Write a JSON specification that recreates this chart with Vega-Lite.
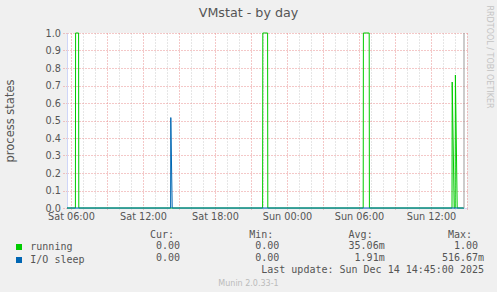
{
  "$schema": "https://vega.github.io/schema/vega-lite/v6.json",
  "width": 400,
  "height": 175,
  "autosize": {"type": "none"},
  "padding": {"left": 67, "top": 33, "right": 30, "bottom": 84},
  "background": "#F0F0F0",
  "config": {
    "view": {"fill": "#FFFFFF", "stroke": null},
    "font": "DejaVu Sans",
    "axis": {"labelFont": "DejaVu Sans", "titleFont": "DejaVu Sans", "titleFontWeight": "normal"}
  },
  "datasets": {
    "series": [
      {"series": "running", "time": "2025-12-13T05:40:00", "value": 0},
      {"series": "running", "time": "2025-12-13T06:22:00", "value": 0},
      {"series": "running", "time": "2025-12-13T06:23:00", "value": 1},
      {"series": "running", "time": "2025-12-13T06:38:00", "value": 1},
      {"series": "running", "time": "2025-12-13T06:39:00", "value": 0},
      {"series": "running", "time": "2025-12-13T21:58:00", "value": 0},
      {"series": "running", "time": "2025-12-13T21:59:00", "value": 1},
      {"series": "running", "time": "2025-12-13T22:23:00", "value": 1},
      {"series": "running", "time": "2025-12-13T22:24:00", "value": 0},
      {"series": "running", "time": "2025-12-14T06:21:00", "value": 0},
      {"series": "running", "time": "2025-12-14T06:22:00", "value": 1},
      {"series": "running", "time": "2025-12-14T06:51:00", "value": 1},
      {"series": "running", "time": "2025-12-14T06:52:00", "value": 0},
      {"series": "running", "time": "2025-12-14T13:45:00", "value": 0},
      {"series": "running", "time": "2025-12-14T13:46:00", "value": 0.72},
      {"series": "running", "time": "2025-12-14T13:56:00", "value": 0},
      {"series": "running", "time": "2025-12-14T14:01:00", "value": 0},
      {"series": "running", "time": "2025-12-14T14:02:00", "value": 0.76},
      {"series": "running", "time": "2025-12-14T14:11:00", "value": 0},
      {"series": "running", "time": "2025-12-14T14:45:00", "value": 0},
      {"series": "I/O sleep", "time": "2025-12-13T05:40:00", "value": 0},
      {"series": "I/O sleep", "time": "2025-12-13T14:18:00", "value": 0},
      {"series": "I/O sleep", "time": "2025-12-13T14:19:00", "value": 0.5167},
      {"series": "I/O sleep", "time": "2025-12-13T14:26:00", "value": 0},
      {"series": "I/O sleep", "time": "2025-12-14T14:45:00", "value": 0}
    ],
    "cells": [
      {"row": "running", "col": "Cur", "num": "0.00", "unit": ""},
      {"row": "running", "col": "Min", "num": "0.00", "unit": ""},
      {"row": "running", "col": "Avg", "num": "35.06", "unit": "m"},
      {"row": "running", "col": "Max", "num": "1.00", "unit": ""},
      {"row": "I/O sleep", "col": "Cur", "num": "0.00", "unit": ""},
      {"row": "I/O sleep", "col": "Min", "num": "0.00", "unit": ""},
      {"row": "I/O sleep", "col": "Avg", "num": "1.91", "unit": "m"},
      {"row": "I/O sleep", "col": "Max", "num": "516.67", "unit": "m"}
    ],
    "headers": [
      {"row": "header", "col": "Cur", "label": "Cur:"},
      {"row": "header", "col": "Min", "label": "Min:"},
      {"row": "header", "col": "Avg", "label": "Avg:"},
      {"row": "header", "col": "Max", "label": "Max:"}
    ],
    "update": [
      {"row": "update", "col": "Max", "label": "Last update: Sun Dec 14 14:45:00 2025"}
    ]
  },
  "layer": [
    {
      "layer": [
        {
          "data": {"name": "series"},
          "mark": {"type": "line", "strokeWidth": 1},
          "encoding": {
            "x": {
              "field": "time", "type": "temporal",
              "scale": {"domain": [{"year": 2025, "month": 12, "date": 13, "hours": 5, "minutes": 40}, {"year": 2025, "month": 12, "date": 14, "hours": 15, "minutes": 0}], "nice": false},
              "axis": {
                "orient": "bottom",
                "tickCount": 40,
                "labelExpr": "hours(datum.value) % 6 == 0 ? timeFormat(datum.value, '%a %H:%M') : ''",
                "labelOverlap": false, "labelFlush": false, "labelBound": false,
                "labelFontSize": 9.7, "labelColor": "#555555", "labelBaseline": "alphabetic", "labelPadding": 9.5,
                "tickSize": 2, "tickDash": [1, 2],
                "tickColor": {"condition": {"test": "hours(datum.value) % 3 == 0", "value": "#E89090"}, "value": "#CCCCCC"},
                "grid": true, "gridDash": [1, 2], "gridWidth": 1,
                "gridColor": {"condition": {"test": "hours(datum.value) % 3 == 0", "value": "#E89090"}, "value": "#CCCCCC"},
                "domainColor": "#CFD6F8", "domainWidth": 1,
                "title": "Munin 2.0.33-1", "titleFontSize": 8, "titleColor": "#BBBBBB",
                "titleX": 181, "titleY": 77, "titleAlign": "center", "titleBaseline": "alphabetic"
              }
            },
            "y": {
              "field": "value", "type": "quantitative",
              "scale": {"domain": [0, 1], "nice": false},
              "axis": {
                "values": [0, 0.1, 0.2, 0.3, 0.4, 0.5, 0.6, 0.7, 0.8, 0.9, 1.0],
                "format": ".1f",
                "labelFontSize": 9.7, "labelColor": "#555555", "labelPadding": 1.5,
                "tickSize": 5, "tickColor": "#E89090", "tickDash": [1, 2],
                "grid": true, "gridColor": "#E89090", "gridDash": [1, 2],
                "domainColor": "#CFD6F8",
                "title": "process states", "titleFontSize": 11.5, "titleColor": "#555555",
                "titleX": -53.5, "titleY": 87.5, "titleAngle": 270, "titleAlign": "center", "titleBaseline": "alphabetic"
              }
            },
            "color": {
              "field": "series", "type": "nominal",
              "scale": {"domain": ["running", "I/O sleep"], "range": ["#00CC00", "#0066B3"]},
              "legend": {
                "orient": "none", "legendX": -53, "legendY": 209, "title": null, "padding": 0,
                "direction": "vertical",
                "symbolType": "square", "symbolSize": 9, "symbolStrokeWidth": 3,
                "labelFont": "DejaVu Sans Mono", "labelFontSize": 10, "labelColor": "#555555",
                "labelOffset": 6.3, "rowPadding": -4
              }
            }
          }
        },
        {
          "data": {"values": [{"time": "2025-12-14T14:45:00"}]},
          "mark": {"type": "rule", "color": "#999999", "strokeWidth": 1},
          "encoding": {"x": {"field": "time", "type": "temporal"}}
        }
      ]
    },
    {
      "layer": [
        {
          "data": {"name": "headers"},
          "mark": {"type": "text", "align": "right", "baseline": "alphabetic", "dx": -6, "font": "DejaVu Sans Mono", "fontSize": 10, "color": "#555555"},
          "encoding": {
            "x": {
              "field": "col", "type": "nominal",
              "scale": {"type": "point", "domain": ["Cur", "Min", "Avg", "Max"], "range": [113, 411], "padding": 0},
              "axis": {
                "orient": "top", "labels": false, "ticks": false, "domain": false, "grid": false,
                "title": "VMstat - by day", "titleFontSize": 12.7, "titleColor": "#555555",
                "titleX": 181, "titleY": -16.5, "titleAlign": "center", "titleBaseline": "alphabetic"
              }
            },
            "y": {
              "field": "row", "type": "nominal",
              "scale": {"type": "point", "domain": ["header", "running", "I/O sleep", "update"], "range": [204.5, 240.3], "padding": 0},
              "axis": {
                "orient": "right", "labels": false, "ticks": false, "domain": false, "grid": false,
                "title": "RRDTOOL / TOBI OETIKER", "titleFontSize": 8, "titleColor": "#C4C4C4", "titleLimit": 200,
                "titleX": 21.7, "titleY": -28, "titleAngle": 90, "titleAlign": "left", "titleBaseline": "middle"
              }
            },
            "text": {"field": "label"}
          }
        },
        {
          "data": {"name": "cells"},
          "mark": {"type": "text", "align": "right", "baseline": "alphabetic", "font": "DejaVu Sans Mono", "fontSize": 10, "color": "#555555"},
          "encoding": {
            "x": {"field": "col", "type": "nominal"},
            "y": {"field": "row", "type": "nominal"},
            "text": {"field": "num"}
          }
        },
        {
          "data": {"name": "cells"},
          "mark": {"type": "text", "align": "left", "baseline": "alphabetic", "font": "DejaVu Sans Mono", "fontSize": 10, "color": "#555555"},
          "encoding": {
            "x": {"field": "col", "type": "nominal"},
            "y": {"field": "row", "type": "nominal"},
            "text": {"field": "unit"}
          }
        },
        {
          "data": {"name": "update"},
          "mark": {"type": "text", "align": "right", "baseline": "alphabetic", "dx": 6, "font": "DejaVu Sans Mono", "fontSize": 10, "color": "#555555"},
          "encoding": {
            "x": {"field": "col", "type": "nominal"},
            "y": {"field": "row", "type": "nominal"},
            "text": {"field": "label"}
          }
        }
      ]
    }
  ],
  "resolve": {"scale": {"x": "independent", "y": "independent"}}
}
